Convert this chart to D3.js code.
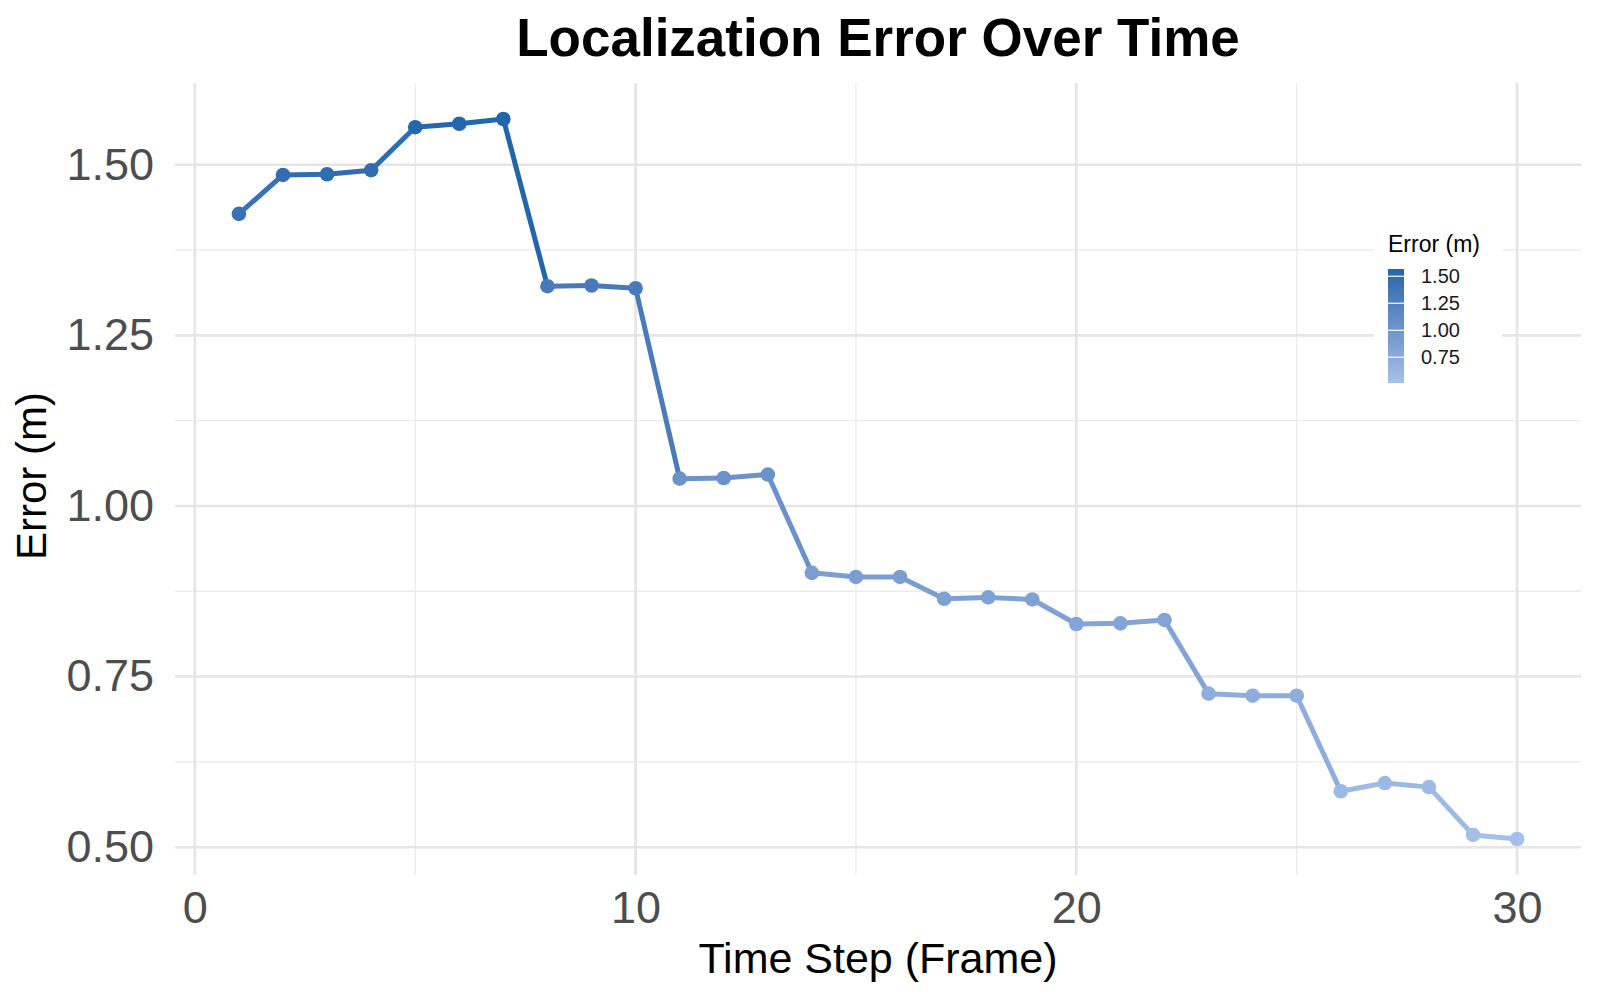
<!DOCTYPE html>
<html>
<head>
<meta charset="utf-8">
<script src="https://cdn.jsdelivr.net/npm/d3@7"></script>
<style>
  body { margin: 0; background: #fff; }
  text { font-family: "Liberation Sans", Arial, sans-serif; }
</style>
</head>
<body>
<div class="chart"></div>
<script>
var frames = d3.range(1, 31);
var errors = [1.428, 1.485, 1.486, 1.492, 1.555, 1.560, 1.567, 1.322, 1.323, 1.319,
              1.040, 1.041, 1.046, 0.902, 0.896, 0.896, 0.864, 0.866, 0.863, 0.827,
              0.828, 0.833, 0.725, 0.722, 0.722, 0.582, 0.594, 0.588, 0.518, 0.512];
var xTicks = [0, 10, 20, 30];
var xMinor = [5, 15, 25];
var yTicks = [0.50, 0.75, 1.00, 1.25, 1.50];
var yMinor = [0.625, 0.875, 1.125, 1.375];
var legendTicks = [1.50, 1.25, 1.00, 0.75];

var svgWidth = 1600;
var svgHeight = 1000;
var panel = {left: 175, right: 1581, top: 83, bottom: 875};

var svg = d3.select(".chart")
  .append("svg")
  .attr("width", svgWidth)
  .attr("height", svgHeight);

var data = frames.map(function(f, i) { return {frame: f, error: errors[i]}; });

// ggplot-like 5% expansion
var xExt = d3.extent(frames), yExt = d3.extent(errors);
var xPad = (xExt[1] - xExt[0]) * 0.05, yPad = (yExt[1] - yExt[0]) * 0.05;

var x = d3.scaleLinear()
  .domain([xExt[0] - xPad, xExt[1] + xPad])
  .range([panel.left, panel.right]);

var y = d3.scaleLinear()
  .domain([yExt[0] - yPad, yExt[1] + yPad])
  .range([panel.bottom, panel.top]);

var color = d3.scaleLinear()
  .domain(yExt)
  .range(["#a5c0e8", "#2166ac"])
  .interpolate(d3.interpolateLab);

// grid
var grid = svg.append("g");
grid.selectAll(".ymin").data(yMinor).enter().append("line")
  .attr("x1", panel.left).attr("x2", panel.right)
  .attr("y1", d => y(d)).attr("y2", d => y(d))
  .attr("stroke", "#ebebeb").attr("stroke-width", 1.3);
grid.selectAll(".xmin").data(xMinor).enter().append("line")
  .attr("y1", panel.top).attr("y2", panel.bottom)
  .attr("x1", d => x(d)).attr("x2", d => x(d))
  .attr("stroke", "#ebebeb").attr("stroke-width", 1.3);
grid.selectAll(".ymaj").data(yTicks).enter().append("line")
  .attr("x1", panel.left).attr("x2", panel.right)
  .attr("y1", d => y(d)).attr("y2", d => y(d))
  .attr("stroke", "#e5e5e5").attr("stroke-width", 2.6);
grid.selectAll(".xmaj").data(xTicks).enter().append("line")
  .attr("y1", panel.top).attr("y2", panel.bottom)
  .attr("x1", d => x(d)).attr("x2", d => x(d))
  .attr("stroke", "#e5e5e5").attr("stroke-width", 2.6);

// axes
var xAxis = svg.append("g")
  .attr("transform", `translate(0, ${panel.bottom})`)
  .call(d3.axisBottom(x).tickValues(xTicks).tickSize(0).tickPadding(16));
var yAxis = svg.append("g")
  .attr("transform", `translate(${panel.left}, 0)`)
  .call(d3.axisLeft(y).tickValues(yTicks).tickFormat(d3.format(".2f")).tickSize(0).tickPadding(21));
[xAxis, yAxis].forEach(function(a) {
  a.select(".domain").remove();
  a.selectAll("text")
    .style("font-family", "'Liberation Sans', Arial, sans-serif")
    .style("font-size", "45px")
    .attr("fill", "#4d4d4d");
});

// line segments coloured by starting value
svg.append("g").selectAll("line")
  .data(data.slice(0, -1))
  .enter()
  .append("line")
  .attr("x1", d => x(d.frame))
  .attr("y1", d => y(d.error))
  .attr("x2", (d, i) => x(data[i + 1].frame))
  .attr("y2", (d, i) => y(data[i + 1].error))
  .attr("stroke", d => color(d.error))
  .attr("stroke-width", 5);

svg.append("g").selectAll("circle")
  .data(data)
  .enter()
  .append("circle")
  .attr("cx", d => x(d.frame))
  .attr("cy", d => y(d.error))
  .attr("r", 7.3)
  .attr("fill", d => color(d.error));

// titles
svg.append("text")
  .attr("x", (panel.left + panel.right) / 2)
  .attr("y", 56)
  .attr("text-anchor", "middle")
  .style("font-size", "53px")
  .style("font-weight", "bold")
  .text("Localization Error Over Time");

svg.append("text")
  .attr("x", (panel.left + panel.right) / 2)
  .attr("y", 973)
  .attr("text-anchor", "middle")
  .style("font-size", "43px")
  .text("Time Step (Frame)");

svg.append("text")
  .attr("transform", `translate(46, ${(panel.top + panel.bottom) / 2 - 3}) rotate(-90)`)
  .attr("text-anchor", "middle")
  .style("font-size", "42px")
  .text("Error (m)");

// legend
var legend = svg.append("g");
legend.append("rect")
  .attr("x", 1374).attr("y", 222)
  .attr("width", 128).attr("height", 176)
  .attr("fill", "#fff");

legend.append("text")
  .attr("x", 1388).attr("y", 252)
  .style("font-size", "23px")
  .text("Error (m)");

var ly = d3.scaleLinear().domain(yExt).range([383, 269]);
var grad = svg.append("defs").append("linearGradient")
  .attr("id", "errGrad")
  .attr("x1", 0).attr("x2", 0).attr("y1", 1).attr("y2", 0);
grad.selectAll("stop")
  .data(d3.range(0, 1.0001, 0.1))
  .enter()
  .append("stop")
  .attr("offset", d => d)
  .attr("stop-color", d => color(yExt[0] + d * (yExt[1] - yExt[0])));

legend.append("rect")
  .attr("x", 1388).attr("y", ly(yExt[1]))
  .attr("width", 16).attr("height", ly(yExt[0]) - ly(yExt[1]))
  .attr("fill", "url(#errGrad)");

legend.selectAll(".ltick").data(legendTicks).enter().append("line")
  .attr("x1", 1388).attr("x2", 1404)
  .attr("y1", d => ly(d)).attr("y2", d => ly(d))
  .attr("stroke", "#fff").attr("stroke-width", 1.2);

legend.selectAll(".llab").data(legendTicks).enter().append("text")
  .attr("x", 1421)
  .attr("y", d => ly(d))
  .attr("dy", "0.36em")
  .style("font-size", "20px")
  .attr("fill", "#1a1a1a")
  .text(d => d3.format(".2f")(d));
</script>
</body>
</html>
